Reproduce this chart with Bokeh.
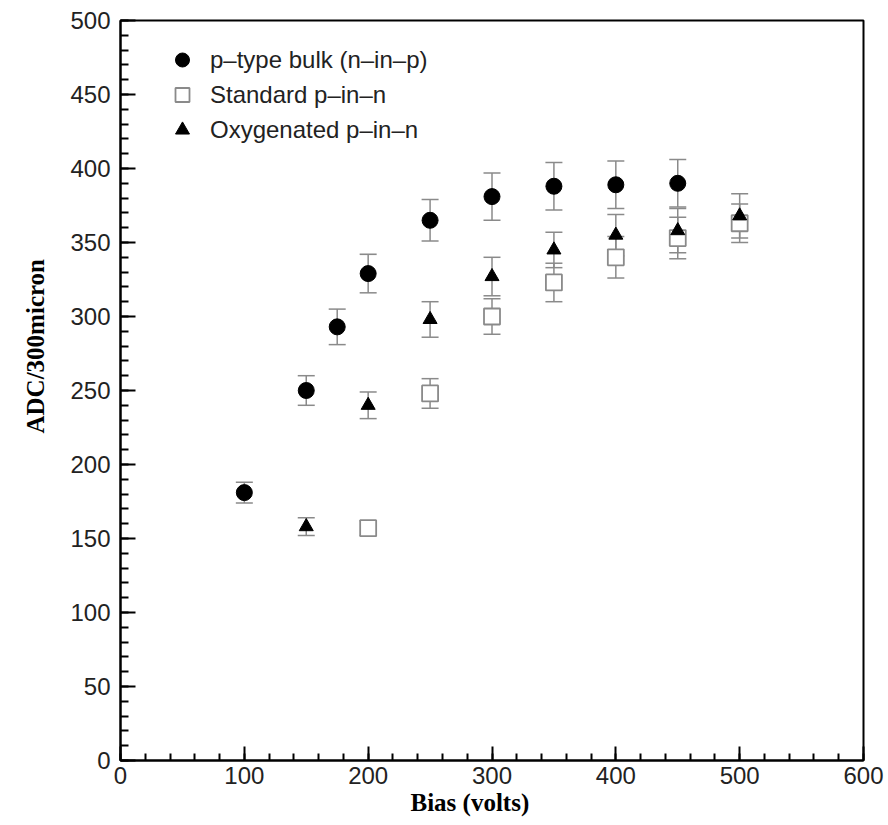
import math
from bokeh.plotting import figure
from bokeh.models import (ColumnDataSource, Whisker, TeeHead, Legend, LegendItem,
                          Range1d, SingleIntervalTicker, Title)
from bokeh.embed import file_html
from bokeh.resources import INLINE

# ---- data ----
bias_p = [100, 150, 175, 200, 250, 300, 350, 400, 450]
adc_p = [181, 250, 293, 329, 365, 381, 388, 389, 390]
err_p = [7, 10, 12, 13, 14, 16, 16, 16, 16]

bias_std = [200, 250, 300, 350, 400, 450, 500]
adc_std = [157, 248, 300, 323, 340, 353, 363]
err_std = [5, 10, 12, 13, 14, 14, 13]

bias_oxy = [150, 200, 250, 300, 350, 400, 450, 500]
adc_oxy = [158, 240, 298, 327, 345, 355, 358, 368]
err_oxy = [6, 9, 12, 13, 12, 14, 15, 15]

labels = ["p\u2013type bulk (n\u2013in\u2013p)", "Standard p\u2013in\u2013n", "Oxygenated p\u2013in\u2013n"]
x_title = "Bias (volts)"
y_title = "ADC/300micron"
x_ticks_interval = 100
y_ticks_interval = 50

ERR_COLOR = "#8a8a8a"


def make_src(x, y, e):
    return ColumnDataSource(dict(x=x, y=y,
                                 lower=[a - b for a, b in zip(y, e)],
                                 upper=[a + b for a, b in zip(y, e)]))


src_p = make_src(bias_p, adc_p, err_p)
src_std = make_src(bias_std, adc_std, err_std)
src_oxy = make_src(bias_oxy, adc_oxy, err_oxy)

p = figure(width=885, height=824, output_backend="svg", toolbar_location=None,
           x_range=Range1d(0, 600), y_range=Range1d(0, 500),
           min_border_left=120, min_border_right=22, min_border_top=20, min_border_bottom=64)
p.grid.visible = False
p.outline_line_color = "black"
p.outline_line_width = 2
p.background_fill_color = "white"
p.border_fill_color = "white"

for ax in (p.xaxis[0], p.yaxis[0]):
    ax.axis_line_width = 2
    ax.axis_line_color = "black"
    ax.major_tick_out = 0
    ax.minor_tick_out = 0
    ax.major_tick_line_width = 2
    ax.minor_tick_line_width = 2
    ax.major_label_text_font = "Liberation Sans"
    ax.major_label_text_font_size = "24px"
    ax.major_label_text_color = "#222222"

p.xaxis.major_label_standoff = 6
p.yaxis.major_label_standoff = 10

p.xaxis.ticker = SingleIntervalTicker(interval=x_ticks_interval, num_minor_ticks=5)
p.yaxis.ticker = SingleIntervalTicker(interval=y_ticks_interval, num_minor_ticks=5)
p.xaxis.major_tick_in = 14
p.xaxis.minor_tick_in = 7
p.yaxis.major_tick_in = 15
p.yaxis.minor_tick_in = 8

# axis titles (as side titles so they can be offset like the reference)
title_style = dict(text_font="Liberation Serif", text_font_style="bold",
                   text_font_size="25px", text_color="black")
p.add_layout(Title(text=x_title, align="left", offset=290, standoff=0, **title_style), "below")
p.add_layout(Title(text=y_title, align="left", offset=327, standoff=37, **title_style), "left")

# error bars
for src in (src_p, src_std, src_oxy):
    w = Whisker(source=src, base="x", upper="upper", lower="lower",
                line_color=ERR_COLOR, line_width=1.5,
                upper_head=TeeHead(size=17, line_color=ERR_COLOR, line_width=1.5),
                lower_head=TeeHead(size=17, line_color=ERR_COLOR, line_width=1.5))
    p.add_layout(w)

r_p = p.scatter("x", "y", source=src_p, marker="circle", size=16,
                fill_color="black", line_color="black")
r_std = p.scatter("x", "y", source=src_std, marker="square", size=16,
                  fill_color="white", line_color="#8a8a8a", line_width=1.8)
r_oxy = p.scatter("x", "y", source=src_oxy, marker="triangle", size=14,
                  fill_color="black", line_color="black")

legend = Legend(items=[LegendItem(label=labels[0], renderers=[r_p]),
                       LegendItem(label=labels[1], renderers=[r_std]),
                       LegendItem(label=labels[2], renderers=[r_oxy])],
                location=(43, 613), margin=0, padding=2, spacing=0,
                glyph_width=38, glyph_height=35, label_height=35, label_standoff=9,
                border_line_color=None, background_fill_alpha=0,
                label_text_font="Liberation Sans", label_text_font_size="24px",
                label_text_color="#222222")
p.add_layout(legend)

open("out.html", "w").write(file_html(p, INLINE))
